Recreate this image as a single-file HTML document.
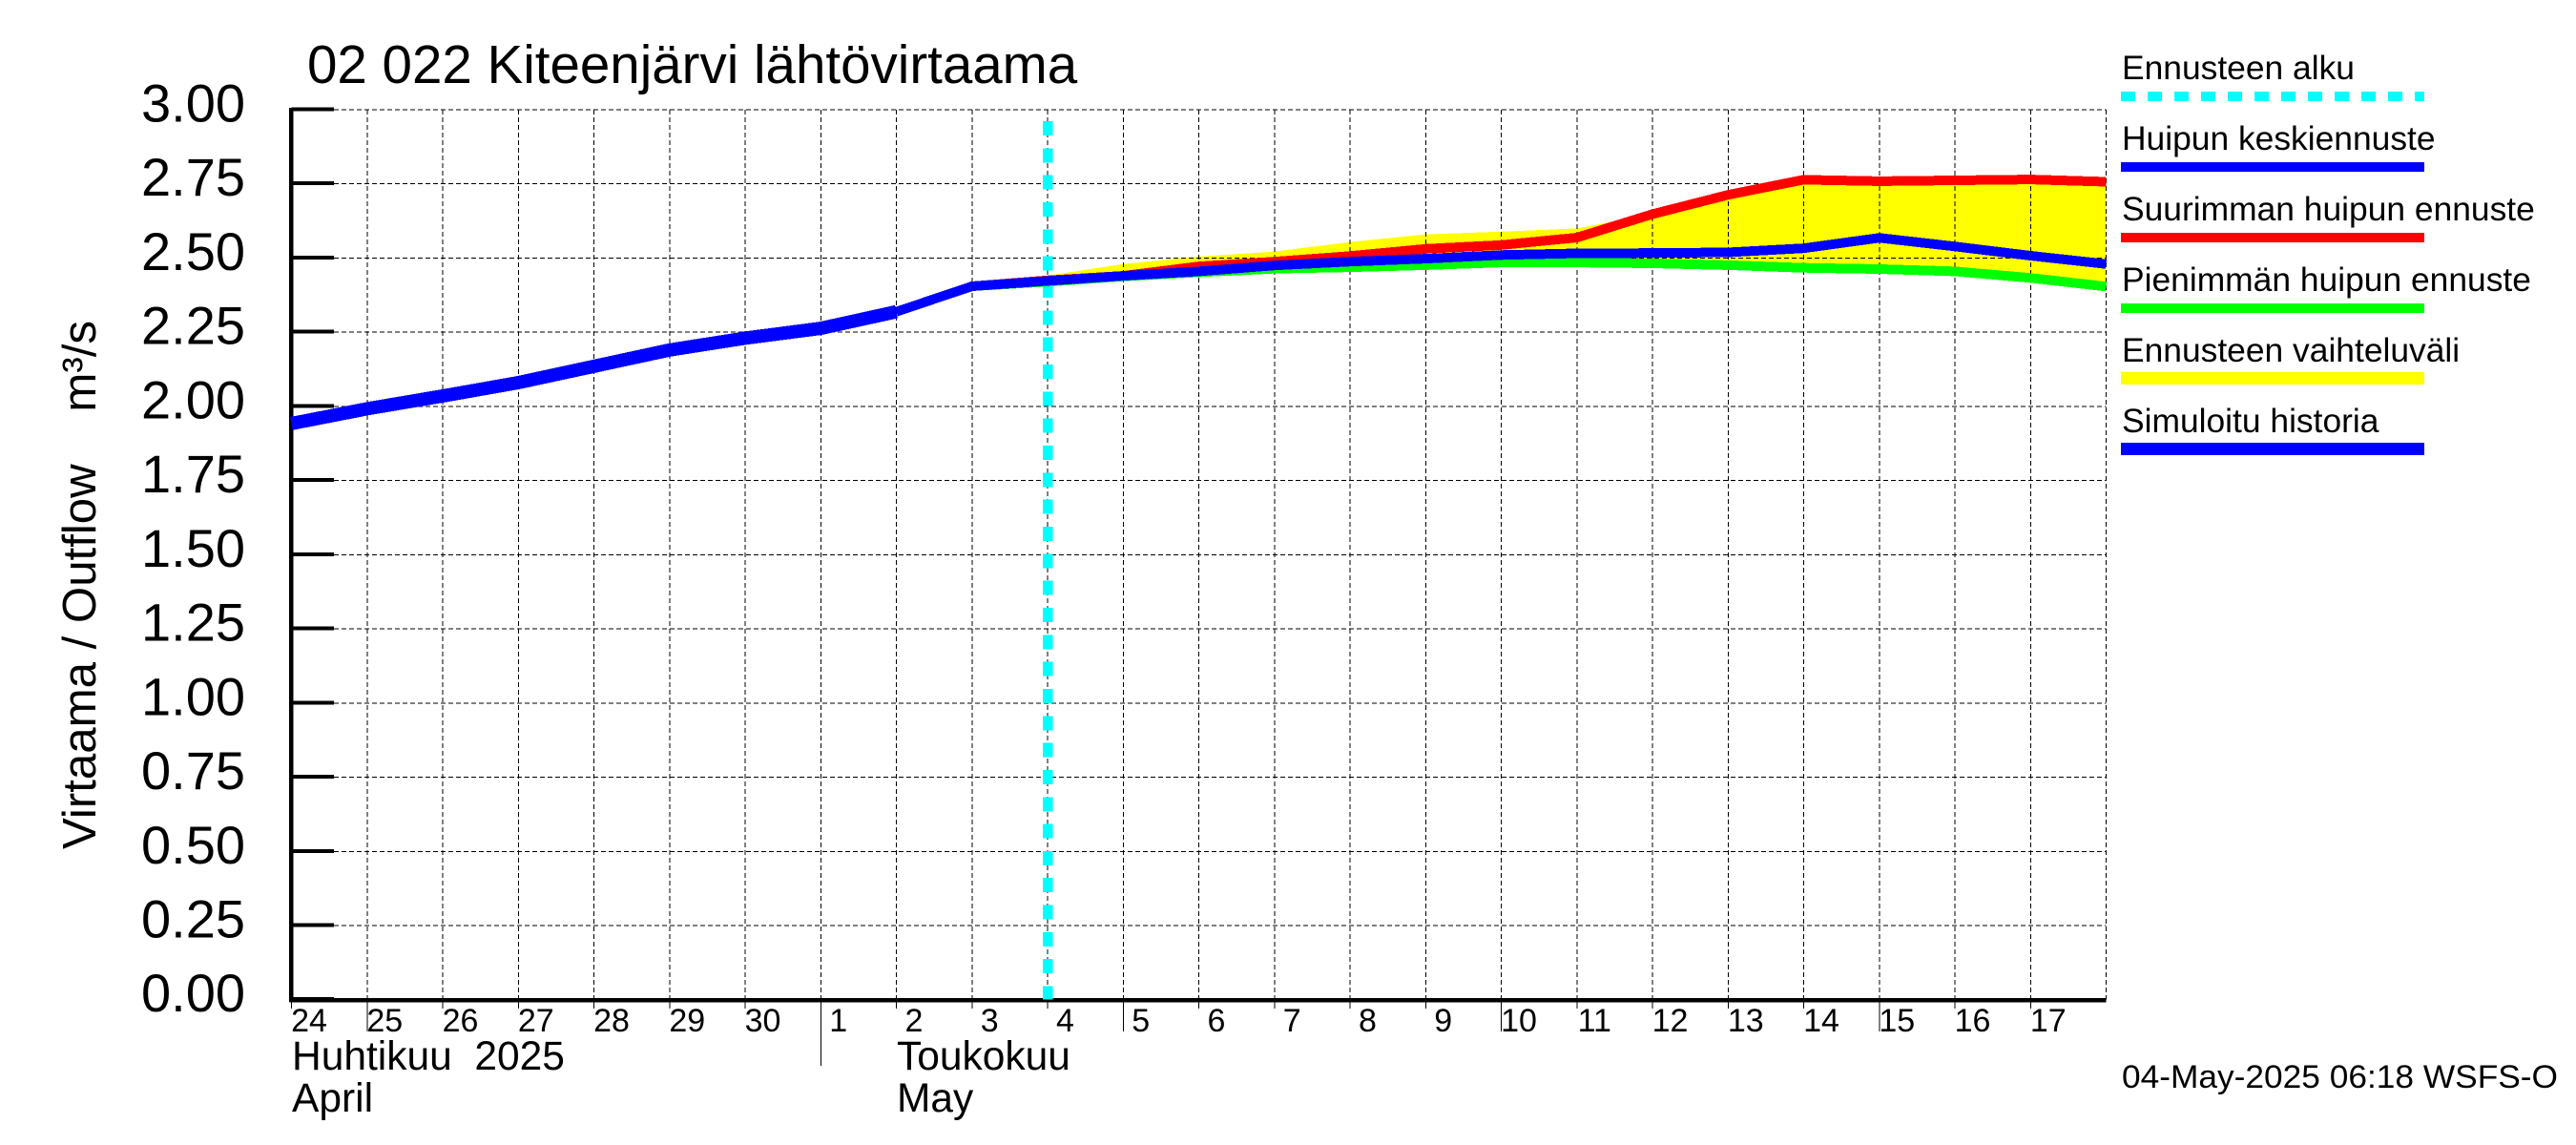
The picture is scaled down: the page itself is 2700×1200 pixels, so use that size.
<!DOCTYPE html>
<html lang="fi">
<head>
<meta charset="utf-8">
<title>02 022 Kiteenjärvi lähtövirtaama</title>
<style>
  html, body { margin: 0; padding: 0; background: #fff; }
  svg { display: block; }
  text { font-family: "Liberation Sans", Arial, sans-serif; fill: #000; white-space: pre; }
</style>
</head>
<body>
<svg id="chart" xmlns="http://www.w3.org/2000/svg" width="2700" height="1200" viewBox="0 0 2700 1200">
  <rect x="0" y="0" width="2700" height="1200" fill="#fff"/>
  <g id="range-layer"></g>
  <g id="grid-layer"></g>
  <g id="axis-layer"></g>
  <g id="series-layer"></g>

  <text x="322" y="87" font-size="56.5">02 022 Kiteenjärvi lähtövirtaama</text>
  <text transform="translate(100 890) rotate(-90)" font-size="49.2">Virtaama / Outflow    m³/s</text>

  <text x="306" y="1121" font-size="42.5">Huhtikuu  2025</text>
  <text x="306" y="1165" font-size="42.5">April</text>
  <text x="940" y="1121" font-size="42.5">Toukokuu</text>
  <text x="940" y="1165" font-size="42.5">May</text>
  <text x="2224" y="1140" font-size="34.5" textLength="457" lengthAdjust="spacingAndGlyphs">04-May-2025 06:18 WSFS-O</text>

  <g shape-rendering="crispEdges">
    <g>
      <text x="2224" y="83" font-size="35.4">Ennusteen alku</text>
      <line x1="2223" x2="2541" y1="101" y2="101" stroke="#00ffff" stroke-width="10" stroke-dasharray="15 13"/>
    </g>
    <g>
      <text x="2224" y="157" font-size="35.4">Huipun keskiennuste</text>
      <rect x="2223" y="170" width="318" height="10" fill="#0000ff"/>
    </g>
    <g>
      <text x="2224" y="231" font-size="35.4">Suurimman huipun ennuste</text>
      <rect x="2223" y="244" width="318" height="10" fill="#ff0000"/>
    </g>
    <g>
      <text x="2224" y="305" font-size="35.4">Pienimmän huipun ennuste</text>
      <rect x="2223" y="318" width="318" height="10" fill="#00ff00"/>
    </g>
    <g>
      <text x="2224" y="379" font-size="35.4">Ennusteen vaihteluväli</text>
      <rect x="2223" y="390" width="318" height="13" fill="#ffff00"/>
    </g>
    <g>
      <text x="2224" y="453" font-size="35.4">Simuloitu historia</text>
      <rect x="2223" y="464" width="318" height="13" fill="#0000ff"/>
    </g>
  </g>
</svg>
<script>
// Categories: day-of-month tick labels, one per day starting 24 April 2025
const dayLabels = [24, 25, 26, 27, 28, 29, 30, 1, 2, 3, 4, 5, 6, 7, 8, 9, 10, 11, 12, 13, 14, 15, 16, 17];
// Y-axis tick labels
const yTickLabels = ['0.00', '0.25', '0.50', '0.75', '1.00', '1.25', '1.50', '1.75', '2.00', '2.25', '2.50', '2.75', '3.00'];
// Simulated history, from day index 0
const historyValues = [1.942, 1.992, 2.035, 2.08, 2.135, 2.19, 2.23, 2.263, 2.319];
const historyStart = 0;
// Mean peak forecast, from day index 8
const meanValues = [2.319, 2.405, 2.423, 2.44, 2.455, 2.475, 2.488, 2.498, 2.51, 2.516, 2.517, 2.519, 2.533, 2.568, 2.539, 2.508, 2.48];
const meanStart = 8;
// Highest peak forecast, from day index 9
const maxValues = [2.405, 2.425, 2.44, 2.472, 2.488, 2.507, 2.531, 2.544, 2.569, 2.648, 2.713, 2.764, 2.759, 2.762, 2.765, 2.757];
// Lowest peak forecast, from day index 9
const minValues = [2.405, 2.42, 2.438, 2.452, 2.464, 2.469, 2.476, 2.485, 2.485, 2.482, 2.476, 2.467, 2.463, 2.455, 2.433, 2.404];
// Upper edge of the forecast range band, from day index 9
const rangeHighValues = [2.405, 2.441, 2.48, 2.505, 2.522, 2.554, 2.58, 2.589, 2.6, 2.648, 2.713, 2.764, 2.759, 2.762, 2.765, 2.757];
const forecastBandStart = 9;
// Forecast start, in days since the first category
const forecastStartDay = 10;

const SVG_NS = 'http://www.w3.org/2000/svg';
const plotLeft = 305.5;
const plotBottom = 1047.7;
const plotTop = 115;
const dayCount = dayLabels.length;
const dayWidth = 79.25;
const yMax = 3;

function xAxis(dayIndex) {
  return plotLeft + dayIndex * dayWidth;
}
function yAxis(value) {
  return plotBottom - (value / yMax) * (plotBottom - plotTop);
}
function make(tag, parent) {
  const el = document.createElementNS(SVG_NS, tag);
  parent.appendChild(el);
  return el;
}
function seriesPoints(values, start) {
  return values.map(function (v, i) {
    return xAxis(start + i).toFixed(1) + ',' + yAxis(v).toFixed(1);
  });
}

const rangeLayer = document.getElementById('range-layer');
const gridLayer = document.getElementById('grid-layer');
const axisLayer = document.getElementById('axis-layer');
const seriesLayer = document.getElementById('series-layer');

// Forecast range band
const bandUpper = seriesPoints(rangeHighValues, forecastBandStart);
const bandLower = seriesPoints(minValues, forecastBandStart).reverse();
const band = make('polygon', rangeLayer);


band.setAttribute('points', bandUpper.concat(bandLower).join(' '));
band.setAttribute('fill', '#ffff00');
band.setAttribute('shape-rendering', 'crispEdges');

// Horizontal gridlines, ticks and labels
yTickLabels.forEach(function (label) {
  const value = parseFloat(label);
  const y = yAxis(value);
  const grid = make('line', gridLayer);
  
  
  grid.setAttribute('x1', 350);
  grid.setAttribute('x2', xAxis(dayCount));
  grid.setAttribute('y1', y);
  grid.setAttribute('y2', y);
  grid.setAttribute('stroke', '#000');
  grid.setAttribute('stroke-width', 1);
  grid.setAttribute('stroke-dasharray', '5 3');
  grid.setAttribute('shape-rendering', 'crispEdges');

  const tick = make('line', axisLayer);
  
  
  tick.setAttribute('x1', plotLeft);
  tick.setAttribute('x2', 350);
  tick.setAttribute('y1', y - 0.5);
  tick.setAttribute('y2', y - 0.5);
  tick.setAttribute('stroke', '#000');
  tick.setAttribute('stroke-width', 4);
  tick.setAttribute('shape-rendering', 'crispEdges');

  const text = make('text', axisLayer);
  
  
  text.setAttribute('x', 257);
  text.setAttribute('y', y + 12.5);
  text.setAttribute('text-anchor', 'end');
  text.setAttribute('font-size', 56);
  text.textContent = label;
});

// Vertical gridlines, ticks and day labels
function tickBottom(label, index) {
  if (label === 1 && index > 0) return 1117;
  if (label % 5 === 0 && label !== 30) return 1081;
  return 1057;
}
dayLabels.concat([null]).forEach(function (label, index) {
  const x = xAxis(index);
  const grid = make('line', gridLayer);
  
  
  grid.setAttribute('x1', x);
  grid.setAttribute('x2', x);
  grid.setAttribute('y1', plotTop);
  grid.setAttribute('y2', plotBottom);
  grid.setAttribute('stroke', '#000');
  grid.setAttribute('stroke-width', 1);
  grid.setAttribute('stroke-dasharray', '5 3');
  grid.setAttribute('shape-rendering', 'crispEdges');
  if (label === null) return;

  const tick = make('line', axisLayer);
  
  
  tick.setAttribute('x1', x);
  tick.setAttribute('x2', x);
  tick.setAttribute('y1', plotBottom);
  tick.setAttribute('y2', tickBottom(label, index));
  tick.setAttribute('stroke', '#000');
  tick.setAttribute('stroke-width', 1);
  tick.setAttribute('shape-rendering', 'crispEdges');

  const text = make('text', axisLayer);
  
  
  text.setAttribute('x', x + 18.5);
  text.setAttribute('y', 1081);
  text.setAttribute('text-anchor', 'middle');
  text.setAttribute('font-size', 34);
  text.textContent = String(label);
});

// Axis lines
const yLine = make('line', axisLayer);


yLine.setAttribute('x1', plotLeft - 0.5);
yLine.setAttribute('x2', plotLeft - 0.5);
yLine.setAttribute('y1', 113);
yLine.setAttribute('y2', 1050);
yLine.setAttribute('stroke', '#000');
yLine.setAttribute('stroke-width', 4.5);
yLine.setAttribute('shape-rendering', 'crispEdges');

const xLine = make('line', axisLayer);


xLine.setAttribute('x1', plotLeft - 2);
xLine.setAttribute('x2', xAxis(dayCount));
xLine.setAttribute('y1', plotBottom + 0.3);
xLine.setAttribute('y2', plotBottom + 0.3);
xLine.setAttribute('stroke', '#000');
xLine.setAttribute('stroke-width', 4.5);
xLine.setAttribute('shape-rendering', 'crispEdges');

// Forecast start marker
const startLine = make('line', seriesLayer);


startLine.setAttribute('x1', xAxis(forecastStartDay));
startLine.setAttribute('x2', xAxis(forecastStartDay));
startLine.setAttribute('y1', 127);
startLine.setAttribute('y2', plotBottom);
startLine.setAttribute('stroke', '#00ffff');
startLine.setAttribute('stroke-width', 10.5);
startLine.setAttribute('stroke-dasharray', '15 13.33');
startLine.setAttribute('shape-rendering', 'crispEdges');

// Series lines
const greenLine = make('polyline', seriesLayer);


greenLine.setAttribute('points', seriesPoints(minValues, forecastBandStart).join(' '));
greenLine.setAttribute('fill', 'none');
greenLine.setAttribute('stroke', '#00ff00');
greenLine.setAttribute('stroke-width', 10);
greenLine.setAttribute('stroke-linejoin', 'round');
greenLine.setAttribute('shape-rendering', 'crispEdges');

const redLine = make('polyline', seriesLayer);


redLine.setAttribute('points', seriesPoints(maxValues, forecastBandStart).join(' '));
redLine.setAttribute('fill', 'none');
redLine.setAttribute('stroke', '#ff0000');
redLine.setAttribute('stroke-width', 10);
redLine.setAttribute('stroke-linejoin', 'round');
redLine.setAttribute('shape-rendering', 'crispEdges');

const meanLine = make('polyline', seriesLayer);


meanLine.setAttribute('points', seriesPoints(meanValues, meanStart).join(' '));
meanLine.setAttribute('fill', 'none');
meanLine.setAttribute('stroke', '#0000ff');
meanLine.setAttribute('stroke-width', 10);
meanLine.setAttribute('stroke-linejoin', 'round');
meanLine.setAttribute('shape-rendering', 'crispEdges');

const historyLine = make('polyline', seriesLayer);


historyLine.setAttribute('points', seriesPoints(historyValues, historyStart).join(' '));
historyLine.setAttribute('fill', 'none');
historyLine.setAttribute('stroke', '#0000ff');
historyLine.setAttribute('stroke-width', 14);
historyLine.setAttribute('stroke-linejoin', 'round');
historyLine.setAttribute('shape-rendering', 'crispEdges');
</script>
</body>
</html>
